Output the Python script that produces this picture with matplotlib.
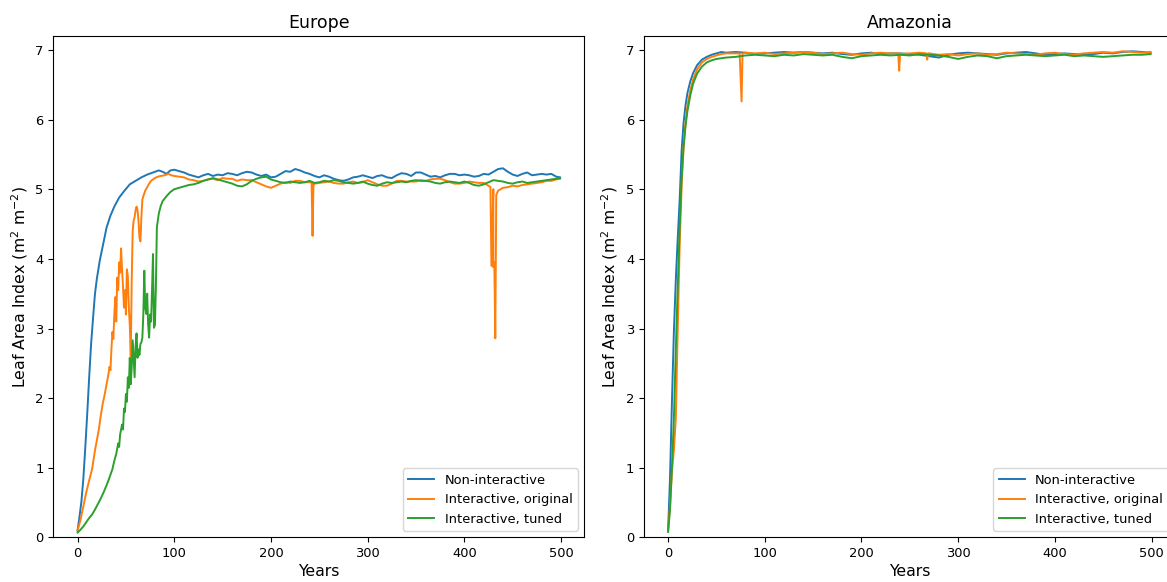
import matplotlib.pyplot as plt
import numpy as np

# ---- Europe ----
eu_non_early_yr = [0, 2, 4, 6, 8, 10, 12, 14, 16, 18, 20, 23, 26, 30, 34, 38, 43, 48, 54,
                   60, 66, 72, 78, 84, 88, 92, 96, 100]
eu_non_early = [0.10, 0.30, 0.52, 0.85, 1.30, 1.78, 2.30, 2.78, 3.15, 3.50, 3.72, 3.98, 4.18,
                4.45, 4.62, 4.75, 4.88, 4.97, 5.07, 5.12, 5.17, 5.21, 5.24, 5.27, 5.25, 5.22,
                5.27, 5.28]
eu_non_late = [5.26, 5.24, 5.21, 5.19, 5.17, 5.20, 5.22, 5.19, 5.21, 5.20, 5.23, 5.22, 5.20,
               5.23, 5.25, 5.24, 5.21, 5.19, 5.21, 5.17, 5.18, 5.22, 5.26, 5.25, 5.29, 5.27,
               5.24, 5.22, 5.19, 5.17, 5.20, 5.18, 5.15, 5.13, 5.12, 5.14, 5.17, 5.18, 5.20,
               5.18, 5.16, 5.19, 5.20, 5.17, 5.16, 5.20, 5.23, 5.22, 5.19, 5.24, 5.24, 5.21,
               5.18, 5.19, 5.17, 5.20, 5.22, 5.22, 5.20, 5.21, 5.20, 5.18, 5.19, 5.22, 5.21,
               5.25, 5.29, 5.30, 5.25, 5.21, 5.19, 5.22, 5.24, 5.20, 5.21, 5.22, 5.21, 5.22,
               5.18, 5.17]

eu_orig_early_yr = [0, 3, 6, 9, 12, 15, 18, 20, 22, 24, 26, 28, 30, 32, 33, 34, 35, 36, 37,
                    38, 39, 40, 41, 42, 43, 44, 45, 46, 47, 48, 49, 50, 51, 52, 53, 54, 55,
                    56, 57, 58, 59, 60, 61, 62, 63, 64, 65, 66, 67, 68, 70, 72, 74, 76, 78,
                    80, 83, 86, 90, 94, 97, 100]
eu_orig_early = [0.10, 0.25, 0.45, 0.65, 0.82, 0.98, 1.25, 1.40, 1.55, 1.75, 1.92, 2.05,
                 2.20, 2.35, 2.45, 2.40, 2.70, 2.95, 2.85, 3.20, 3.45, 3.10, 3.73, 3.55, 3.95,
                 3.80, 4.15, 3.85, 3.60, 3.30, 3.55, 3.20, 3.85, 3.75, 3.30, 3.05, 2.60, 3.70,
                 4.40, 4.55, 4.60, 4.70, 4.75, 4.70, 4.55, 4.30, 4.25, 4.60, 4.85, 4.90, 4.98,
                 5.03, 5.08, 5.12, 5.14, 5.16, 5.18, 5.19, 5.20, 5.22, 5.20, 5.19]
eu_orig_late = [5.18, 5.17, 5.14, 5.13, 5.11, 5.12, 5.14, 5.15, 5.13, 5.16, 5.15, 5.15, 5.12,
                5.14, 5.13, 5.13, 5.10, 5.07, 5.04, 5.02, 5.05, 5.08, 5.10, 5.09, 5.12, 5.12,
                5.10, 5.10, 5.08, 5.09, 5.10, 5.11, 5.09, 5.08, 5.08, 5.10, 5.11, 5.09, 5.10,
                5.13, 5.10, 5.07, 5.05, 5.05, 5.08, 5.12, 5.12, 5.11, 5.11, 5.11, 5.13, 5.12,
                5.14, 5.15, 5.15, 5.13, 5.10, 5.08, 5.08, 5.09, 5.11, 5.10, 5.09, 5.09, 5.05,
                5.00, 4.98, 5.02, 5.03, 5.05, 5.04, 5.06, 5.07, 5.08, 5.09, 5.10, 5.12, 5.12,
                5.14, 5.15]
eu_orig_spike_yr = [242, 243, 244, 427, 428, 430, 431, 432, 433]
eu_orig_spike = [5.10, 4.33, 5.09, 5.03, 3.90, 3.88, 3.95, 2.86, 4.92]

eu_tuned_early_yr = [0, 3, 6, 9, 12, 15, 18, 21, 24, 27, 30, 33, 36, 38, 40, 42, 43, 44, 46,
                     47, 48, 49, 50, 51, 52, 53, 54, 55, 56, 57, 58, 59, 60, 61, 62, 63, 64,
                     65, 66, 67, 68, 69, 70, 71, 72, 73, 74, 75, 76, 77, 78, 79, 80, 81, 82,
                     84, 86, 88, 92, 96, 100]
eu_tuned_early = [0.07, 0.11, 0.16, 0.22, 0.28, 0.33, 0.40, 0.48, 0.56, 0.65, 0.75, 0.86,
                  0.98, 1.10, 1.20, 1.35, 1.30, 1.48, 1.62, 1.55, 1.85, 1.80, 2.06, 1.95, 2.30,
                  2.15, 2.58, 2.20, 2.45, 2.83, 2.55, 2.30, 2.75, 2.93, 2.58, 2.70, 2.62, 2.78,
                  2.80, 2.87, 3.20, 3.83, 3.30, 3.21, 3.50, 3.05, 2.87, 3.20, 3.10, 3.55, 4.07,
                  3.01, 3.05, 3.60, 4.45, 4.65, 4.76, 4.83, 4.90, 4.96, 5.00]
eu_tuned_late = [5.02, 5.04, 5.06, 5.07, 5.09, 5.12, 5.14, 5.16, 5.14, 5.12, 5.10, 5.08, 5.05,
                 5.04, 5.07, 5.12, 5.15, 5.17, 5.18, 5.14, 5.12, 5.10, 5.09, 5.11, 5.10, 5.09,
                 5.10, 5.12, 5.09, 5.10, 5.12, 5.11, 5.13, 5.12, 5.10, 5.09, 5.08, 5.09, 5.11,
                 5.08, 5.06, 5.05, 5.08, 5.10, 5.09, 5.10, 5.11, 5.10, 5.12, 5.13, 5.12, 5.12,
                 5.11, 5.09, 5.08, 5.10, 5.11, 5.10, 5.09, 5.11, 5.09, 5.06, 5.05, 5.07, 5.10,
                 5.13, 5.12, 5.11, 5.09, 5.08, 5.10, 5.11, 5.09, 5.10, 5.11, 5.12, 5.13, 5.14,
                 5.15, 5.16]

# ---- Amazonia ----
am_early_yr = [0, 2, 4, 6, 8, 10, 12, 14, 16, 18, 20, 23, 26, 30, 35, 40, 45, 50, 55]
am_non_early = [0.10, 0.85, 1.95, 2.95, 3.70, 4.30, 4.85, 5.55, 5.95, 6.20, 6.38, 6.55, 6.67,
                6.78, 6.86, 6.90, 6.93, 6.95, 6.97]
am_orig_early = [0.10, 0.45, 0.95, 1.25, 1.70, 3.00, 4.20, 5.05, 5.60, 5.95, 6.20, 6.42, 6.58,
                 6.72, 6.82, 6.87, 6.90, 6.92, 6.94]
am_tuned_early = [0.08, 0.40, 1.00, 1.70, 2.70, 3.60, 4.45, 5.15, 5.60, 5.90, 6.12, 6.35,
                  6.52, 6.66, 6.76, 6.82, 6.85, 6.87, 6.88]
am_non_late = [6.96, 6.97, 6.96, 6.94, 6.95, 6.96, 6.97, 6.96, 6.97, 6.96, 6.95, 6.96, 6.94,
               6.93, 6.95, 6.96, 6.94, 6.95, 6.95, 6.94, 6.93, 6.91, 6.89, 6.93, 6.95, 6.96,
               6.95, 6.94, 6.93, 6.95, 6.96, 6.97, 6.95, 6.93, 6.94, 6.95, 6.94, 6.93, 6.94,
               6.96, 6.95, 6.97, 6.98, 6.97, 6.96]
am_orig_late = [6.95, 6.95, 6.96, 6.95, 6.96, 6.94, 6.95, 6.96, 6.97, 6.96, 6.94, 6.95, 6.96,
                6.94, 6.93, 6.95, 6.96, 6.95, 6.95, 6.95, 6.96, 6.95, 6.93, 6.94, 6.92, 6.94,
                6.95, 6.93, 6.94, 6.96, 6.95, 6.94, 6.93, 6.95, 6.96, 6.94, 6.93, 6.95, 6.96,
                6.97, 6.96, 6.98, 6.97, 6.96, 6.97]
am_orig_spike_yr = [74, 76, 77, 238, 239, 240, 267, 268, 269]
am_orig_spike = [6.95, 6.26, 6.95, 6.95, 6.70, 6.94, 6.95, 6.86, 6.95]
am_tuned_late = [6.89, 6.90, 6.92, 6.93, 6.92, 6.91, 6.93, 6.92, 6.94, 6.93, 6.92, 6.93, 6.90,
                 6.88, 6.91, 6.92, 6.93, 6.92, 6.93, 6.92, 6.94, 6.93, 6.92, 6.90, 6.87, 6.90,
                 6.92, 6.91, 6.88, 6.91, 6.92, 6.93, 6.92, 6.91, 6.92, 6.93, 6.91, 6.92, 6.91,
                 6.90, 6.91, 6.92, 6.93, 6.93, 6.94]

eu_late_yr = list(range(105, 500, 5)) + [499]
am_late_yr = list(range(60, 500, 10)) + [499]


def series(parts):
    yrs, vals = [], []
    for y, v in parts:
        yrs += list(y)
        vals += list(v)
    order = np.argsort(yrs, kind="stable")
    return np.array(yrs)[order], np.array(vals)[order]


europe = [
    ("Non-interactive", series([(eu_non_early_yr, eu_non_early), (eu_late_yr, eu_non_late)])),
    ("Interactive, original", series([(eu_orig_early_yr, eu_orig_early), (eu_late_yr, eu_orig_late),
                                      (eu_orig_spike_yr, eu_orig_spike)])),
    ("Interactive, tuned", series([(eu_tuned_early_yr, eu_tuned_early), (eu_late_yr, eu_tuned_late)])),
]
amazonia = [
    ("Non-interactive", series([(am_early_yr, am_non_early), (am_late_yr, am_non_late)])),
    ("Interactive, original", series([(am_early_yr, am_orig_early), (am_late_yr, am_orig_late),
                                      (am_orig_spike_yr, am_orig_spike)])),
    ("Interactive, tuned", series([(am_early_yr, am_tuned_early), (am_late_yr, am_tuned_late)])),
]

fig = plt.figure(figsize=(11.67, 5.82), dpi=100)
ax1 = fig.add_axes([0.0458, 0.0765, 0.4548, 0.8617])
ax2 = fig.add_axes([0.5518, 0.0765, 0.4548, 0.8617])

for ax, title, data in [(ax1, "Europe", europe), (ax2, "Amazonia", amazonia)]:
    for label, (x, y) in data:
        ax.plot(x, y, label=label, lw=1.4)
    ax.set_xlim(-24.95, 523.95)
    ax.set_ylim(0, 7.2)
    ax.set_title(title, fontsize=12.5)
    ax.set_xlabel("Years", fontsize=11.3, labelpad=3)
    ax.set_ylabel("Leaf Area Index (m$^2$ m$^{-2}$)", fontsize=11.3)
    ax.tick_params(labelsize=9.4)
    ax.legend(loc="lower right", fontsize=9.4)

fig.savefig("out.png", dpi=100)
